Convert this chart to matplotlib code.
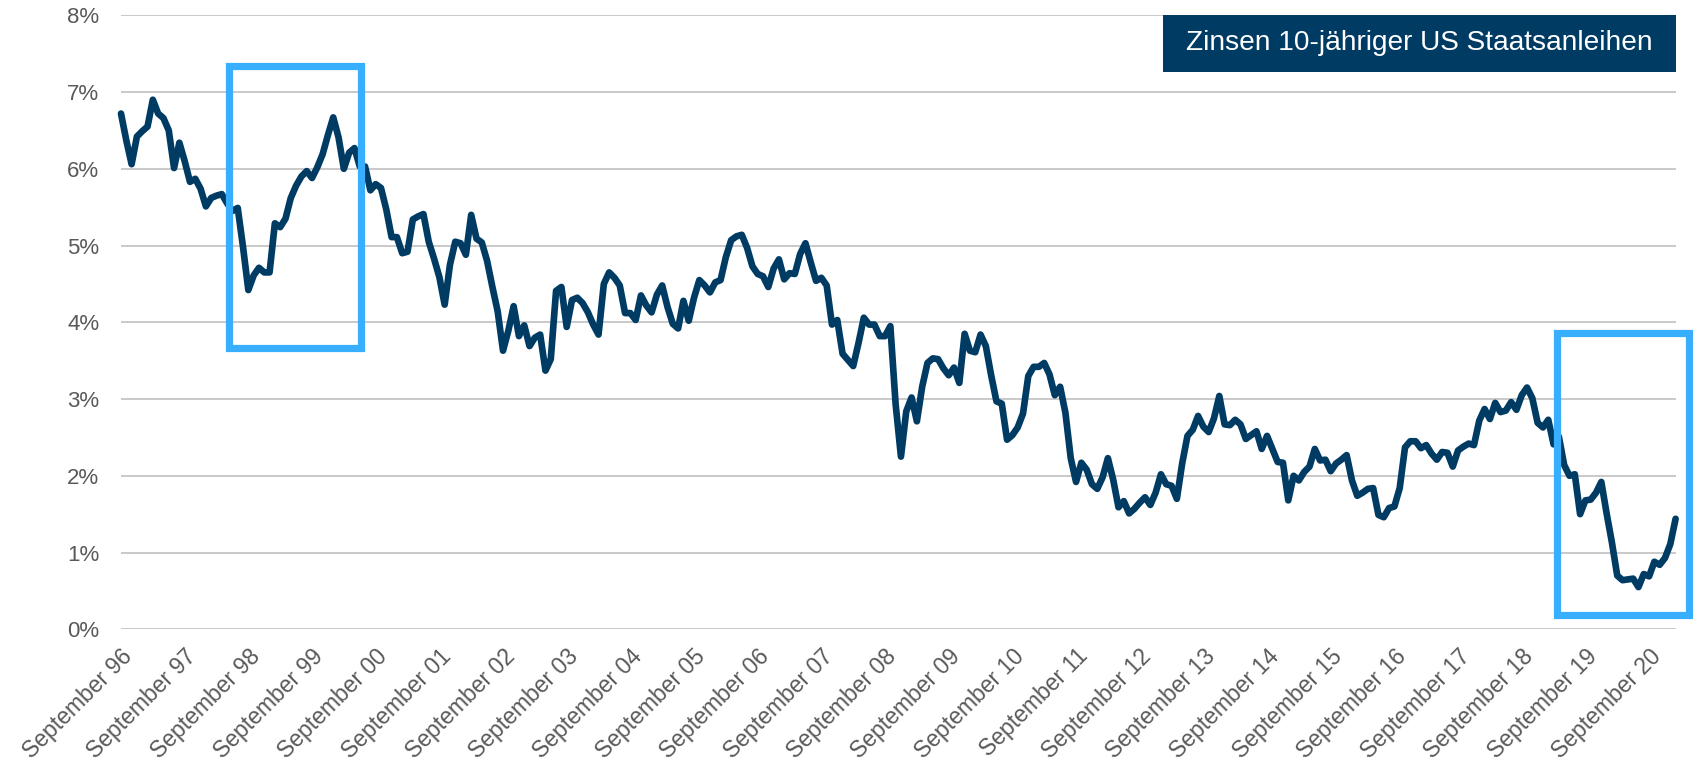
import matplotlib
matplotlib.use("Agg")
import matplotlib.pyplot as plt
from matplotlib.patches import Rectangle
import numpy as np

plt.rcParams['font.family'] = ['Liberation Sans', 'DejaVu Sans']

# Monthly 10-year US Treasury yields (%), Sep 1996 - Feb 2021
y1996 = [6.72, 6.37, 6.06, 6.42]
y1997 = [6.49, 6.55, 6.90, 6.72, 6.66, 6.50, 6.01, 6.34, 6.10, 5.83, 5.87, 5.74]
y1998 = [5.51, 5.62, 5.65, 5.67, 5.55, 5.45, 5.49, 4.98, 4.42, 4.61, 4.71, 4.65]
y1999 = [4.65, 5.29, 5.24, 5.35, 5.62, 5.78, 5.90, 5.97, 5.88, 6.02, 6.19, 6.44]
y2000 = [6.67, 6.41, 6.00, 6.21, 6.27, 6.03, 6.03, 5.72, 5.80, 5.75, 5.47, 5.11]
y2001 = [5.11, 4.90, 4.92, 5.34, 5.38, 5.41, 5.05, 4.83, 4.59, 4.23, 4.75, 5.05]
y2002 = [5.03, 4.88, 5.40, 5.09, 5.04, 4.80, 4.46, 4.14, 3.63, 3.89, 4.21, 3.82]
y2003 = [3.96, 3.69, 3.80, 3.84, 3.37, 3.52, 4.41, 4.46, 3.94, 4.29, 4.32, 4.25]
y2004 = [4.13, 3.97, 3.84, 4.50, 4.65, 4.58, 4.48, 4.12, 4.12, 4.03, 4.35, 4.22]
y2005 = [4.13, 4.36, 4.48, 4.20, 3.98, 3.92, 4.28, 4.02, 4.32, 4.55, 4.48, 4.39]
y2006 = [4.52, 4.55, 4.85, 5.07, 5.12, 5.14, 4.97, 4.73, 4.63, 4.60, 4.46, 4.70]
y2007 = [4.82, 4.56, 4.64, 4.63, 4.89, 5.03, 4.78, 4.54, 4.58, 4.48, 3.97, 4.03]
y2008 = [3.59, 3.51, 3.43, 3.73, 4.06, 3.97, 3.97, 3.82, 3.82, 3.95, 2.93, 2.25]
y2009 = [2.84, 3.02, 2.71, 3.16, 3.47, 3.53, 3.52, 3.40, 3.31, 3.41, 3.21, 3.85]
y2010 = [3.63, 3.61, 3.84, 3.69, 3.31, 2.97, 2.94, 2.47, 2.53, 2.63, 2.81, 3.30]
y2011 = [3.42, 3.42, 3.47, 3.32, 3.05, 3.16, 2.82, 2.23, 1.92, 2.17, 2.08, 1.89]
y2012 = [1.83, 1.98, 2.23, 1.95, 1.59, 1.67, 1.51, 1.57, 1.65, 1.72, 1.62, 1.78]
y2013 = [2.02, 1.89, 1.87, 1.70, 2.16, 2.52, 2.60, 2.78, 2.64, 2.57, 2.75, 3.04]
y2014 = [2.67, 2.66, 2.73, 2.67, 2.48, 2.53, 2.58, 2.35, 2.52, 2.35, 2.18, 2.17]
y2015 = [1.68, 2.00, 1.94, 2.05, 2.12, 2.35, 2.20, 2.21, 2.06, 2.16, 2.21, 2.27]
y2016 = [1.94, 1.74, 1.78, 1.83, 1.84, 1.49, 1.46, 1.58, 1.60, 1.84, 2.37, 2.45]
y2017 = [2.45, 2.36, 2.40, 2.29, 2.21, 2.31, 2.30, 2.12, 2.33, 2.38, 2.42, 2.40]
y2018 = [2.72, 2.87, 2.74, 2.95, 2.83, 2.85, 2.96, 2.86, 3.05, 3.15, 3.01, 2.69]
y2019 = [2.63, 2.73, 2.41, 2.51, 2.14, 2.00, 2.02, 1.50, 1.68, 1.69, 1.78, 1.92]
y2020 = [1.51, 1.13, 0.70, 0.64, 0.65, 0.66, 0.55, 0.72, 0.69, 0.88, 0.84, 0.93]
y2021 = [1.11, 1.44]

yields = (y1996 + y1997 + y1998 + y1999 + y2000 + y2001 + y2002 + y2003 + y2004
          + y2005 + y2006 + y2007 + y2008 + y2009 + y2010 + y2011 + y2012 + y2013
          + y2014 + y2015 + y2016 + y2017 + y2018 + y2019 + y2020 + y2021)

tick_labels = ["September %02d" % (y % 100) for y in range(1996, 2021)]
title_text = "Zinsen 10-jähriger US Staatsanleihen"
y_ticks = [0, 1, 2, 3, 4, 5, 6, 7, 8]

# highlight windows (month index, yield range)
highlight1 = (20.4, 45.2, 3.66, 7.34)
highlight2 = (270.6, 295.5, 0.19, 3.86)

NAVY = "#003B64"
LIGHTBLUE = "#38AEFF"
GRAY_TXT = "#595959"

W, H = 1693, 765
fig = plt.figure(figsize=(W / 100, H / 100), dpi=100)
ax_left, ax_right = 121 / W, 1675.6 / W
ax_bottom, ax_top = (H - 629.3) / H, (H - 15.3) / H
ax = fig.add_axes([ax_left, ax_bottom, ax_right - ax_left, ax_top - ax_bottom])

x = np.arange(len(yields))
ax.plot(x, yields, color=NAVY, lw=4.8, solid_joinstyle='round', solid_capstyle='round',
        zorder=3, clip_on=False)

ax.set_xlim(0, len(yields) - 1)
ax.set_ylim(0, 8)
ax.set_yticks(y_ticks)
ax.set_yticklabels(["%d%%" % v for v in y_ticks])
ax.yaxis.grid(True, color="#C0C0C0", lw=1.2)
ax.set_axisbelow(True)
for s in ax.spines.values():
    s.set_visible(False)
ax.tick_params(axis='y', length=0, pad=15.5, labelsize=16, labelcolor=GRAY_TXT)

ax.set_xticks(np.arange(0, len(yields), 12)[:len(tick_labels)])
ax.set_xticklabels(tick_labels, rotation=45, ha='right', va='top', rotation_mode='anchor')
ax.tick_params(axis='x', length=0, pad=11, labelsize=16.5, labelcolor=GRAY_TXT)

for (x0, x1, y0, y1) in (highlight1, highlight2):
    ax.add_patch(Rectangle((x0, y0), x1 - x0, y1 - y0, fill=False, ec=LIGHTBLUE,
                           lw=5.2, joinstyle='miter', zorder=4, clip_on=False))

# title box in the upper right
bx0 = (1163 - 121) / (1675.6 - 121)
by0 = (629.3 - 71.7) / (629.3 - 15.3)
ax.add_patch(Rectangle((bx0, by0), 1 - bx0, 1.0 - by0, transform=ax.transAxes,
                       fc=NAVY, ec='none', zorder=5, clip_on=False))
ax.text((bx0 + 1) / 2, (by0 + 1) / 2, title_text, transform=ax.transAxes,
        ha='center', va='center', color='white', fontsize=20.2, zorder=6)

fig.savefig("out.png", dpi=100)
